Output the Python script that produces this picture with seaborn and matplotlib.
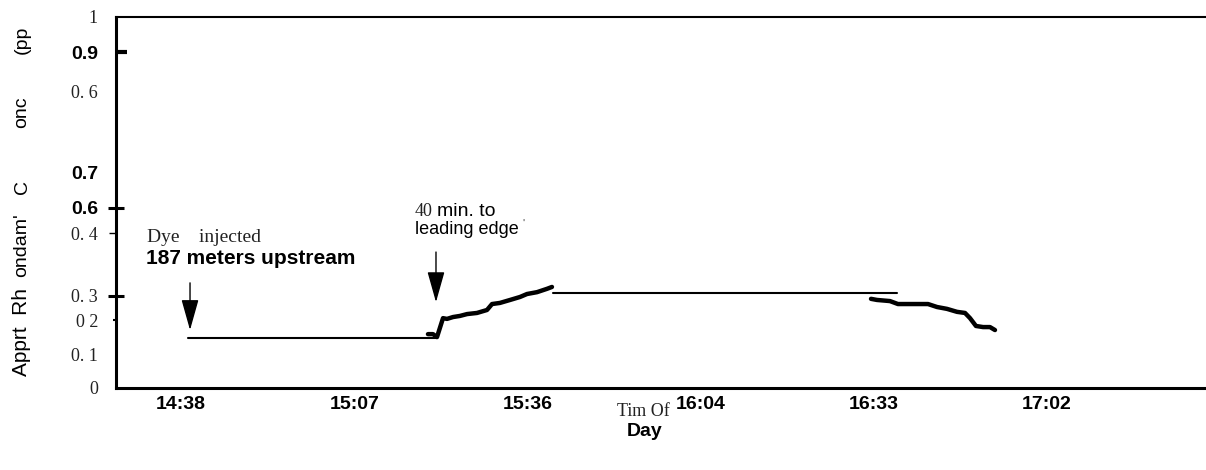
import matplotlib
matplotlib.use("Agg")
import matplotlib.pyplot as plt
import matplotlib.lines as mlines
import seaborn as sns
import pandas as pd
import numpy as np

# ---------------- data ----------------
baseline_time = ["14:39:34", "15:20:58"]
baseline_conc = [0.135, 0.135]

rise_time = ["15:19:28", "15:20:18", "15:20:58", "15:21:58", "15:22:38", "15:23:38",
             "15:24:47", "15:25:58", "15:27:37", "15:29:17", "15:30:07", "15:31:26",
             "15:33:07", "15:34:46", "15:35:56", "15:37:36", "15:39:16", "15:40:05"]
rise_conc = [0.145, 0.145, 0.137, 0.188, 0.186, 0.191,
             0.194, 0.199, 0.202, 0.210, 0.226, 0.229,
             0.237, 0.245, 0.253, 0.258, 0.267, 0.272]

plateau_time = ["15:40:16", "16:37:28"]
plateau_conc = [0.257, 0.257]

fall_time = ["16:33:08", "16:34:08", "16:36:17", "16:37:37", "16:39:37", "16:42:37",
             "16:44:07", "16:45:46", "16:47:26", "16:48:46", "16:49:36", "16:50:35",
             "16:51:46", "16:52:55", "16:53:45"]
fall_conc = [0.240, 0.237, 0.234, 0.226, 0.226, 0.226,
             0.218, 0.213, 0.205, 0.202, 0.188, 0.167,
             0.164, 0.164, 0.156]

xtick_values = [0.61, 0.63, 0.65, 0.67, 0.69, 0.71]
xtick_labels = ["14:38", "15:07", "15:36", "16:04", "16:33", "17:02"]

ytick_values = [1.0, 0.904, 0.797, 0.581, 0.485, 0.417, 0.248, 0.183, 0.089, 0.0]
ytick_labels = ["1", "0.9", "0. 6", "0.7", "0.6", "0. 4", "0. 3", "0 2", "0. 1", "0"]
ytick_serif = [True, False, True, False, False, True, True, True, True, True]

arrow1_time, arrow1_tip, arrow1_tail = "14:39:54", 0.156, 0.283
arrow2_time, arrow2_tip, arrow2_tail = "15:20:48", 0.231, 0.366


def to_day(ts):
    return np.asarray(pd.to_timedelta(ts).total_seconds()) / 86400.0


# ---------------- style ----------------
sns.set_theme(style="white")
SANS = ["Liberation Sans", "DejaVu Sans"]
SERIF = ["Liberation Serif", "DejaVu Serif"]
plt.rcParams["font.family"] = SANS

fig = plt.figure(figsize=(12.06, 4.70), dpi=100)
ax = fig.add_axes([116 / 1206, 1 - 388 / 470, 1090 / 1206, 371.5 / 470])

# lines
sns.lineplot(x=to_day(baseline_time), y=baseline_conc, ax=ax, color="black",
             linewidth=1.5, sort=False, estimator=None)
sns.lineplot(x=to_day(rise_time), y=rise_conc, ax=ax, color="black",
             linewidth=3.2, sort=False, estimator=None, solid_capstyle="round",
             solid_joinstyle="round")
sns.lineplot(x=to_day(plateau_time), y=plateau_conc, ax=ax, color="black",
             linewidth=1.5, sort=False, estimator=None)
sns.lineplot(x=to_day(fall_time), y=fall_conc, ax=ax, color="black",
             linewidth=3.2, sort=False, estimator=None, solid_capstyle="round",
             solid_joinstyle="round")

ax.set_xlim(0.602494, 0.728360)
ax.set_ylim(0.0, 1.0)

# spines
for side in ["left", "bottom"]:
    ax.spines[side].set_linewidth(2.2)
    ax.spines[side].set_color("black")
ax.spines["top"].set_linewidth(1.5)
ax.spines["top"].set_color("black")
ax.spines["right"].set_visible(False)

# x ticks
ax.set_xticks(xtick_values)
ax.set_xticklabels(xtick_labels)
ax.tick_params(axis="x", length=0, pad=6)
for lab in ax.get_xticklabels():
    lab.set_fontsize(14)
    lab.set_fontweight("bold")
    lab.set_color("black")

# y ticks
ax.set_yticks(ytick_values)
ax.set_yticklabels(ytick_labels)
ax.tick_params(axis="y", direction="inout", length=12, width=2.2, pad=7,
               color="black", left=True)
for lab, serif in zip(ax.get_yticklabels(), ytick_serif):
    if serif:
        lab.set_fontfamily(SERIF)
        lab.set_fontsize(13)
        lab.set_color("#222222")
    else:
        lab.set_fontfamily(SANS)
        lab.set_fontsize(14)
        lab.set_fontweight("bold")
        lab.set_color("black")

tick_style = [None, ("in", 8, 3.0), None, None, ("inout", 12, 2.2), ("out", 5, 1.0),
              ("inout", 11, 2.2), ("out", 2, 1.5), None, None]
for tk, st in zip(ax.yaxis.get_major_ticks(), tick_style):
    if st is None:
        tk.tick1line.set_visible(False)
        continue
    d, ln, w = st
    marker = {"in": mlines.TICKRIGHT, "out": mlines.TICKLEFT, "inout": "_"}[d]
    tk.tick1line.set_marker(marker)
    tk.tick1line.set_markersize(ln)
    tk.tick1line.set_markeredgewidth(w)

ax.grid(False)

# annotations
for t, tip, tail in [(arrow1_time, arrow1_tip, arrow1_tail), (arrow2_time, arrow2_tip, arrow2_tail)]:
    ax.annotate("", xy=(to_day(t), tip), xytext=(to_day(t), tail),
                arrowprops=dict(arrowstyle="-|>,head_length=1.6,head_width=0.45", color="black",
                                lw=1.0, shrinkA=0, shrinkB=0, mutation_scale=12))


def axfrac(px, py):
    return ((px - 116) / 1090, (388 - py) / 371.5)


ax.text(*axfrac(147, 237), "Dye    injected", transform=ax.transAxes, family=SERIF,
        fontsize=14, va="center", ha="left", color="#222222")
ax.text(*axfrac(146, 258), "187 meters upstream", transform=ax.transAxes, family=SANS,
        fontsize=15, fontweight="bold", va="center", ha="left", color="black")
ax.text(*axfrac(415, 212), "40", transform=ax.transAxes, family=SERIF,
        fontsize=13, va="center", ha="left", color="#222222")
ax.text(*axfrac(437, 212), "min. to", transform=ax.transAxes, family=SANS,
        fontsize=14, va="center", ha="left", color="black")
ax.text(*axfrac(415, 229), "leading edge", transform=ax.transAxes, family=SANS,
        fontsize=13, va="center", ha="left", color="black")
ax.text(*axfrac(522, 224), "'", transform=ax.transAxes, family=SANS,
        fontsize=8, va="center", ha="left", color="#444444")

# axis titles (fragmented, as in the scan)
fig.text(643 / 1206, 1 - 411 / 470, "Tim Of", family=SERIF, fontsize=13,
         ha="center", va="center", color="#222222")
fig.text(645 / 1206, 1 - 431 / 470, "Day", family=SANS, fontsize=14,
         fontweight="bold", ha="center", va="center", color="black")

ylab_x = 22 / 1206
for txt, py, fs in [("(pp", 40, 14), ("onc", 112, 14), ("C", 187, 14),
                    ("ondam'", 245, 14), ("Apprt  Rh", 332, 15)]:
    fig.text(ylab_x, 1 - py / 470, txt, family=SANS, fontsize=fs, rotation=90,
             ha="center", va="center", color="black")

fig.savefig("out.png", dpi=100)
